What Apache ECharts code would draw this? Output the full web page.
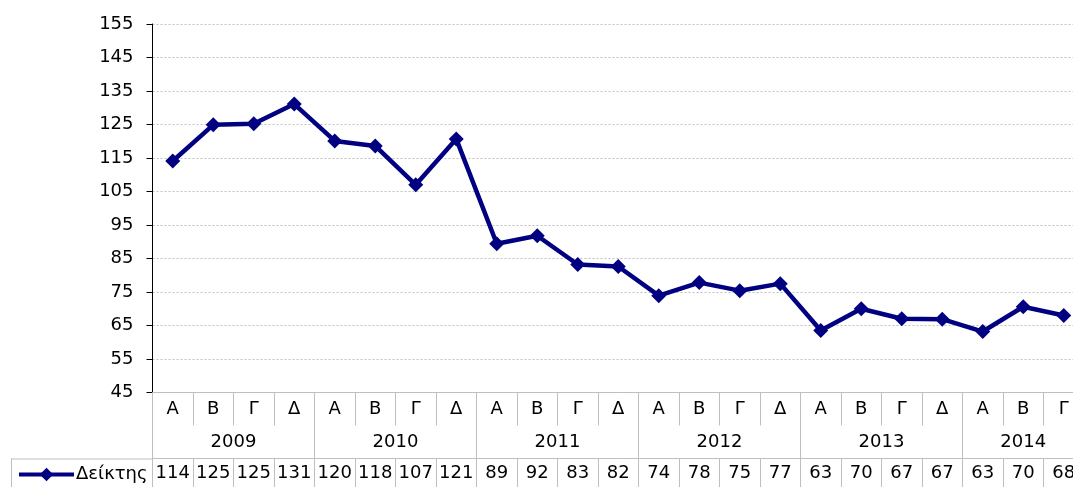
<!DOCTYPE html>
<html>
<head>
<meta charset="utf-8">
<script src="https://cdn.jsdelivr.net/npm/echarts@6/dist/echarts.min.js"></script>
<style>html,body{margin:0;padding:0;background:#fff;overflow:hidden}#c{width:1090px;height:487px}</style>
</head>
<body>
<div id="c"></div>
<script>
// ---- data ----
const quarters = ['Α','Β','Γ','Δ','Α','Β','Γ','Δ','Α','Β','Γ','Δ','Α','Β','Γ','Δ','Α','Β','Γ','Δ','Α','Β','Γ'];
const years = ['2009','2010','2011','2012','2013','2014'];
const quartersPerYear = [4,4,4,4,4,3];
const seriesName = 'Δείκτης';
const values = [114.1,124.9,125.2,131.1,120.1,118.6,107.0,120.7,89.4,91.8,83.2,82.6,73.9,77.8,75.4,77.5,63.5,70.0,67.0,66.9,63.2,70.6,68.0];
const tableValues = [114,125,125,131,120,118,107,121,89,92,83,82,74,78,75,77,63,70,67,67,63,70,68];
const yTicks = {min:45, max:155, interval:10};

// ---- layout ----
const FONT = 'DejaVu Sans';
const FS = 18;
const GRID_LEFT = 152.5, GRID_TOP = 24, CAT_W = 40.5, GRID_H = 368.5;
const ROW1 = 33, ROW2 = 66; // quarter row bottom, year row bottom (from axis)
const GREY = '#bfbfbf';
const NAVY = '#000080';

const yearBounds = [];
const yearCenters = [];
let acc = 0;
quartersPerYear.forEach(n => { yearBounds.push(acc); yearCenters.push(acc + n/2); acc += n; });

const chart = echarts.init(document.getElementById('c'), null, {renderer:'canvas'});
const axisBottomY = GRID_TOP + GRID_H;
chart.setOption({
  animation:false,
  textStyle:{fontFamily:FONT},
  grid:{left:GRID_LEFT, top:GRID_TOP, width:CAT_W*quarters.length, height:GRID_H, containLabel:false},
  legend:{
    left:17, top:axisBottomY + ROW2 + 7, padding:0, itemWidth:55, itemHeight:17, itemGap:5,
    lineStyle:{width:4},
    textStyle:{fontFamily:FONT, fontSize:FS, color:'#000', padding:[0,0,0,-3]},
    data:[seriesName]
  },
  xAxis:[
    {
      type:'category', data:quarters, boundaryGap:true, position:'bottom',
      axisLine:{show:true, lineStyle:{color:GREY, width:1}},
      axisTick:{show:true, interval:0, length:ROW1, lineStyle:{color:GREY}},
      axisLabel:{interval:0, margin:8, fontFamily:FONT, fontSize:FS, color:'#000'},
      splitLine:{show:false}
    },
    {
      type:'value', min:0, max:quarters.length, position:'bottom', offset:0,
      axisLine:{show:false},
      axisTick:{show:true, length:ROW2, customValues:yearBounds, lineStyle:{color:GREY}},
      axisLabel:{show:true, margin:41, customValues:yearCenters, fontFamily:FONT, fontSize:FS, color:'#000',
        formatter:v => { const i = yearCenters.indexOf(v); return i >= 0 ? years[i] : ''; }},
      splitLine:{show:false}
    },
    {
      type:'category', data:tableValues.map(String), boundaryGap:true, position:'bottom', offset:ROW2,
      axisLine:{show:true, lineStyle:{color:GREY, width:1}},
      axisTick:{show:true, interval:0, length:40, lineStyle:{color:GREY}},
      axisLabel:{interval:0, margin:6, fontFamily:FONT, fontSize:FS, color:'#000'},
      splitLine:{show:false}
    }
  ],
  yAxis:{
    type:'value', min:yTicks.min, max:yTicks.max, interval:yTicks.interval,
    axisLine:{show:true, lineStyle:{color:'#000', width:1}},
    axisTick:{show:true, length:6, lineStyle:{color:'#000'}},
    axisLabel:{margin:19, fontFamily:FONT, fontSize:FS, color:'#000'},
    splitLine:{show:true, lineStyle:{color:GREY, type:[2,2], width:1}}
  },
  graphic:[
    {type:'line', silent:true, shape:{x1:11, y1:axisBottomY+ROW2+0.5, x2:GRID_LEFT, y2:axisBottomY+ROW2+0.5}, style:{stroke:GREY, lineWidth:1}},
    {type:'line', silent:true, shape:{x1:11.5, y1:axisBottomY+ROW2, x2:11.5, y2:axisBottomY+ROW2+60}, style:{stroke:GREY, lineWidth:1}}
  ],
  series:[{
    name:seriesName, type:'line', xAxisIndex:0, yAxisIndex:0, data:values,
    symbol:'diamond', symbolSize:15,
    lineStyle:{color:NAVY, width:4.5},
    itemStyle:{color:NAVY},
    z:5
  }]
});
</script>
</body>
</html>
